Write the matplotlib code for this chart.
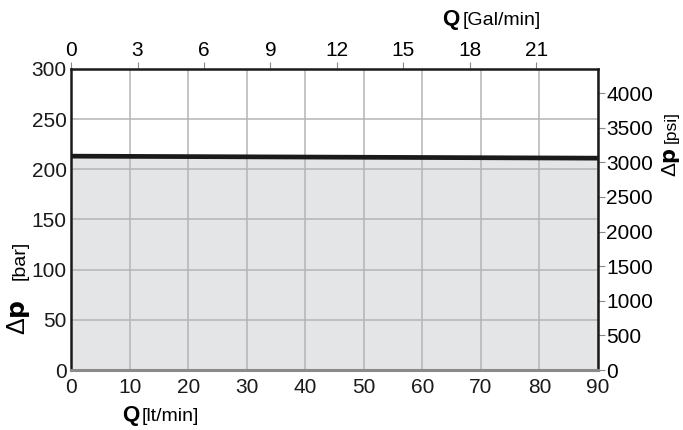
import numpy as np
import matplotlib.pyplot as plt
from matplotlib import font_manager

# ---- data ----
q_lpm = [0, 90]            # flow [lt/min]
dp_bar = [213, 211]        # pressure drop [bar]
x_ticks = [0, 10, 20, 30, 40, 50, 60, 70, 80, 90]
y_ticks = [0, 50, 100, 150, 200, 250, 300]
gal_ticks = [0, 3, 6, 9, 12, 15, 18, 21]
psi_ticks = [0, 500, 1000, 1500, 2000, 2500, 3000, 3500, 4000]

LPM_PER_GAL = 3.78541
PSI_PER_BAR = 14.5038

names = {f.name for f in font_manager.fontManager.ttflist}
narrow = 'Liberation Sans Narrow' if 'Liberation Sans Narrow' in names else 'Liberation Sans'
plt.rcParams['font.family'] = [narrow, 'DejaVu Sans']

fig = plt.figure(figsize=(6.83, 4.3), dpi=100)
ax = fig.add_axes([0.104, 0.1395, 0.7715, 0.7005])

ax.fill_between(q_lpm, dp_bar, 0, color='#e4e5e7', zorder=0)
ax.plot(q_lpm, dp_bar, color='#1a1a1a', lw=3.4, zorder=3, solid_capstyle='butt')

ax.set_xlim(0, 90)
ax.set_ylim(0, 300)
ax.set_xticks(x_ticks)
ax.set_yticks(y_ticks)
ax.grid(True, color='#b4b4b4', lw=1.1, zorder=1)
ax.set_axisbelow(True)
ax.tick_params(axis='both', length=0, labelsize=15, colors='#1a1a1a', pad=3)
ax.tick_params(axis='x', pad=6)
for s in ['left', 'right', 'top']:
    ax.spines[s].set_color('#1a1a1a')
    ax.spines[s].set_linewidth(1.8)
ax.spines['bottom'].set_color('#8a8a8a')
ax.spines['bottom'].set_linewidth(2.2)

top = ax.secondary_xaxis('top', functions=(lambda x: x / LPM_PER_GAL, lambda g: g * LPM_PER_GAL))
top.set_xticks(gal_ticks)
top.tick_params(length=5, width=0.8, color='#888888', labelsize=15, pad=1)
top.spines['top'].set_visible(False)

right = ax.secondary_yaxis('right', functions=(lambda b: b * PSI_PER_BAR, lambda p: p / PSI_PER_BAR))
right.set_yticks(psi_ticks)
right.tick_params(length=5, width=0.8, color='#888888', labelsize=15, pad=1)
right.spines['right'].set_visible(False)

# axis titles
kw = dict(rotation=90, rotation_mode='anchor', ha='left', va='baseline')
fig.text(0.179, 0.021, 'Q', fontsize=16, fontweight='bold', ha='left', va='baseline')
fig.text(0.207, 0.021, '[lt/min]', fontsize=14, ha='left', va='baseline')
fig.text(0.647, 0.942, 'Q', fontsize=16, fontweight='bold', ha='left', va='baseline')
fig.text(0.677, 0.942, '[Gal/min]', fontsize=14, ha='left', va='baseline')
fig.text(0.037, 0.221, r'Δ$\mathbf{p}$', fontsize=18, **kw)
fig.text(0.036, 0.349, '[bar]', fontsize=14, **kw)
fig.text(0.990, 0.588, r'Δ$\mathbf{p}$', fontsize=15, **kw)
fig.text(0.990, 0.667, '[psi]', fontsize=12.5, **kw)

fig.savefig('out.png', dpi=100)
